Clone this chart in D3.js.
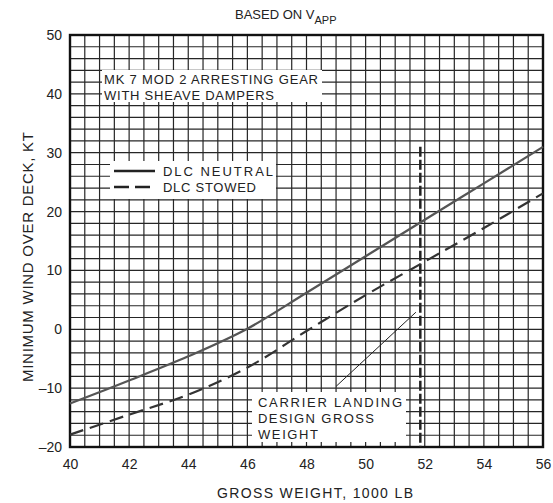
<!DOCTYPE html>
<html><head><meta charset="utf-8">
<script src="https://cdn.jsdelivr.net/npm/d3@7"></script>
<style>body{margin:0;background:#fff}svg{display:block}text{font-family:"Liberation Sans",Arial,sans-serif;fill:#222}</style>
</head><body>
<svg id="c" width="553" height="503"></svg>
<script>
const weights = [40, 42, 44, 46, 48, 50, 52, 54, 56];
const dlcNeutral = [-12.6, -8.7, -4.6, 0.1, 6.2, 12.4, 18.6, 24.8, 31.0];
const dlcStowed = [-17.9, -14.5, -11.1, -6.5, -0.3, 5.8, 11.5, 17.2, 23.1];
const xTicks = [40, 42, 44, 46, 48, 50, 52, 54, 56];
const yTicks = [-20, -10, 0, 10, 20, 30, 40, 50];
const designWeight = 51.85;
const pointerX = [49.0, 51.7];
const pointerY = [-9.7, 2.9];

const svg = d3.select("#c");
const x = d3.scaleLinear().domain([40, 56]).range([70, 543]);
const y = d3.scaleLinear().domain([-20, 50]).range([447, 35]);

// grid
const g = svg.append("g");
g.selectAll("line.v").data(d3.range(40, 56.01, 0.5)).join("line")
  .attr("x1", d => x(d)).attr("x2", d => x(d)).attr("y1", y(-20)).attr("y2", y(50))
  .attr("stroke", "#262626").attr("stroke-width", 1.2);
g.selectAll("line.h").data(d3.range(-20, 50.01, 2)).join("line")
  .attr("y1", d => y(d)).attr("y2", d => y(d)).attr("x1", x(40)).attr("x2", x(56))
  .attr("stroke", "#262626").attr("stroke-width", 1.2);
svg.append("rect").attr("x", x(40)).attr("y", y(50)).attr("width", x(56) - x(40)).attr("height", y(-20) - y(50))
  .attr("fill", "none").attr("stroke", "#111").attr("stroke-width", 2.4);

// axes
const xAxis = d3.axisBottom(x).tickValues(xTicks).tickSize(0).tickPadding(12);
const xa = svg.append("g").attr("transform", `translate(0,${y(-20)})`).call(xAxis);
xa.select(".domain").remove();
xa.selectAll("text").attr("font-size", 14).style("fill", "#222");
const yAxis = d3.axisLeft(y).tickValues(yTicks).tickSize(0).tickPadding(8)
  .tickFormat(d => d < 0 ? "\u2013" + Math.abs(d) : d);
const ya = svg.append("g").attr("transform", `translate(${x(40)},0)`).call(yAxis);
ya.select(".domain").remove();
ya.selectAll("text").attr("font-size", 14).style("fill", "#222");

// white label boxes
svg.append("rect").attr("x", 102).attr("y", 70).attr("width", 220).attr("height", 32).attr("fill", "#fff");
svg.append("rect").attr("x", 110).attr("y", 161).attr("width", 166).attr("height", 38).attr("fill", "#fff");
svg.append("rect").attr("x", 252).attr("y", 392).attr("width", 154).attr("height", 50).attr("fill", "#fff");

// design weight line
svg.append("line").attr("x1", x(designWeight)).attr("x2", x(designWeight)).attr("y1", y(31)).attr("y2", y(-20))
  .attr("stroke", "#222").attr("stroke-width", 2.5).attr("stroke-dasharray", "10,3");
svg.append("line").attr("x1", x(pointerX[0])).attr("y1", y(pointerY[0])).attr("x2", x(pointerX[1])).attr("y2", y(pointerY[1]))
  .attr("stroke", "#222").attr("stroke-width", 1);

// curves
const line = d3.line().x((d, i) => x(weights[i])).y(d => y(d)).curve(d3.curveCatmullRom.alpha(0.5));
svg.append("path").attr("d", line(dlcNeutral)).attr("fill", "none").attr("stroke", "#555").attr("stroke-width", 2.2);
svg.append("path").attr("d", line(dlcStowed)).attr("fill", "none").attr("stroke", "#333").attr("stroke-width", 2.2)
  .attr("stroke-dasharray", "14,7");

// texts
function txt(xp, yp, s, size, len) {
  const e = svg.append("text").attr("x", xp).attr("y", yp).attr("font-size", size).text(s);
  if (len) e.attr("textLength", len).attr("lengthAdjust", "spacing");
  return e;
}
txt(104, 84, "MK 7 MOD 2 ARRESTING GEAR", 13, 214);
txt(104, 100, "WITH SHEAVE DAMPERS", 13, 170);
svg.append("line").attr("x1", 114).attr("x2", 155).attr("y1", 171).attr("y2", 171).attr("stroke", "#222").attr("stroke-width", 2.4);
svg.append("line").attr("x1", 114).attr("x2", 155).attr("y1", 187).attr("y2", 187).attr("stroke", "#222").attr("stroke-width", 2.4).attr("stroke-dasharray", "15,6");
txt(163, 176, "DLC NEUTRAL", 13, 110);
txt(163, 192, "DLC STOWED", 13, 93);
txt(258, 407, "CARRIER LANDING", 13, 144);
txt(258, 423, "DESIGN GROSS", 13, 116);
txt(258, 439, "WEIGHT", 13, 60);

const t = svg.append("text").attr("x", 235).attr("y", 19).attr("font-size", 13);
t.append("tspan").text("BASED ON V");
t.append("tspan").attr("dy", 5).attr("font-size", 11).text("APP");

svg.append("text").attr("x", 217).attr("y", 498).attr("font-size", 14)
  .attr("textLength", 196).attr("lengthAdjust", "spacing").text("GROSS WEIGHT, 1000 LB");
svg.append("text").attr("transform", "translate(33,382) rotate(-90)").attr("font-size", 15)
  .attr("textLength", 250).attr("lengthAdjust", "spacing").text("MINIMUM WIND OVER DECK, KT");
</script>
</body></html>
